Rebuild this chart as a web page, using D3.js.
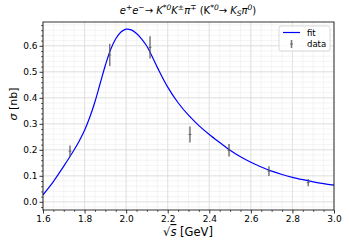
<!DOCTYPE html>
<html><head><meta charset="utf-8">
<script src="https://cdn.jsdelivr.net/npm/d3@7"></script>
<style>body{margin:0;background:#fff}svg{display:block}text{font-family:"DejaVu Sans",sans-serif}</style>
</head><body>
<svg id="c" width="349" height="249"></svg>
<script>
const fitX = [1.60,1.65,1.70,1.75,1.775,1.80,1.825,1.85,1.875,1.90,1.925,1.95,1.975,2.00,2.025,2.05,2.075,2.10,2.15,2.20,2.25,2.30,2.35,2.40,2.45,2.50,2.55,2.60,2.65,2.70,2.75,2.80,2.85,2.90,2.95,3.00];
const fitY = [0.027,0.078,0.137,0.2,0.235,0.275,0.325,0.385,0.455,0.525,0.585,0.627,0.653,0.664,0.661,0.647,0.626,0.598,0.517,0.441,0.381,0.333,0.293,0.259,0.228,0.198,0.173,0.152,0.134,0.118,0.105,0.094,0.085,0.077,0.07,0.064];
const dataX = [1.73,1.921,2.115,2.307,2.495,2.687,2.876];
const dataY = [0.195,0.565,0.594,0.259,0.198,0.118,0.074];
const dataErr = [0.022,0.043,0.043,0.031,0.024,0.019,0.014];
const xTicks = [1.6,1.8,2.0,2.2,2.4,2.6,2.8,3.0];
const yTicks = [0.0,0.1,0.2,0.3,0.4,0.5,0.6];

const svg = d3.select("#c");
const L=43,R=334,T=22,B=210;
const x = d3.scaleLinear().domain([1.6,3.0]).range([L,R]);
const y = d3.scaleLinear().domain([-0.0315,0.6915]).range([B,T]);

// grids
const xMinor = d3.range(1.6,3.0001,0.05);
const yMinor = d3.range(-0.02,0.69,0.02);
const g = svg.append("g");
g.selectAll(".xm").data(xMinor).join("line").attr("x1",d=>x(d)).attr("x2",d=>x(d)).attr("y1",T).attr("y2",B).attr("stroke","#ececec").attr("stroke-width",0.6);
g.selectAll(".ym").data(yMinor).join("line").attr("y1",d=>y(d)).attr("y2",d=>y(d)).attr("x1",L).attr("x2",R).attr("stroke","#ececec").attr("stroke-width",0.6);
g.selectAll(".xM").data(xTicks).join("line").attr("x1",d=>x(d)).attr("x2",d=>x(d)).attr("y1",T).attr("y2",B).attr("stroke","#dcdcdc").attr("stroke-width",0.8);
g.selectAll(".yM").data(yTicks).join("line").attr("y1",d=>y(d)).attr("y2",d=>y(d)).attr("x1",L).attr("x2",R).attr("stroke","#dcdcdc").attr("stroke-width",0.8);

// fit curve
const pts = fitX.map((d,i)=>[d,fitY[i]]);
svg.append("path").datum(pts).attr("fill","none").attr("stroke","#0000ff").attr("stroke-width",1.2)
  .attr("d",d3.line().x(d=>x(d[0])).y(d=>y(d[1])).curve(d3.curveCatmullRom.alpha(0.5)));

// data
const dg = svg.append("g");
dataX.forEach((d,i)=>{
  dg.append("line").attr("x1",x(d)).attr("x2",x(d)).attr("y1",y(dataY[i]-dataErr[i])).attr("y2",y(dataY[i]+dataErr[i])).attr("stroke","#555").attr("stroke-opacity",0.8).attr("stroke-width",1.5);
  dg.append("line").attr("x1",x(d)-1.5).attr("x2",x(d)+1.5).attr("y1",y(dataY[i])).attr("y2",y(dataY[i])).attr("stroke","#555").attr("stroke-width",0.8);
});

// axes
const xAxis = d3.axisBottom(x).tickValues(xTicks).tickFormat(d3.format(".1f")).tickSize(3.5).tickPadding(2);
const yAxis = d3.axisLeft(y).tickValues(yTicks).tickFormat(d3.format(".1f")).tickSize(3.5).tickPadding(2);
const xa = svg.append("g").attr("transform",`translate(0,${B})`).call(xAxis);
const ya = svg.append("g").attr("transform",`translate(${L},0)`).call(yAxis);
[xa,ya].forEach(a=>{a.select(".domain").remove();a.selectAll("text").attr("font-size",9).attr("fill","#000").attr("font-family","DejaVu Sans");a.selectAll("line").attr("stroke","#000").attr("stroke-width",0.8);});
// minor ticks
const xa2 = svg.append("g").attr("transform",`translate(0,${B})`).call(d3.axisBottom(x).tickValues(xMinor.filter(v=>Math.abs(v*5-Math.round(v*5))>1e-6)).tickSize(2).tickFormat(""));
const ya2 = svg.append("g").attr("transform",`translate(${L},0)`).call(d3.axisLeft(y).tickValues(yMinor.filter(v=>Math.abs(v*10-Math.round(v*10))>1e-6)).tickSize(2).tickFormat(""));
[xa2,ya2].forEach(a=>{a.select(".domain").remove();a.selectAll("line").attr("stroke","#000").attr("stroke-width",0.6);});

svg.append("rect").attr("x",L).attr("y",T).attr("width",R-L).attr("height",B-T).attr("fill","none").attr("stroke","#000").attr("stroke-width",0.8);

// labels
const title = svg.append("text").attr("x",188).attr("y",14).attr("text-anchor","middle").attr("font-size",10).attr("font-style","italic");
title.append("tspan").text("e");
title.append("tspan").text("+").attr("dy",-4).attr("font-size",7.5);
title.append("tspan").text("e").attr("dy",4);
title.append("tspan").text("−").attr("dy",-4).attr("font-size",7.5);
title.append("tspan").text("→ K").attr("dy",4);
title.append("tspan").text("*0").attr("dy",-4).attr("font-size",7.5);
title.append("tspan").text("K").attr("dy",4);
title.append("tspan").text("±").attr("dy",-4).attr("font-size",7.5);
title.append("tspan").text("π").attr("dy",4);
title.append("tspan").text("∓").attr("dy",-4).attr("font-size",7.5);
title.append("tspan").text(" (K").attr("dy",4).attr("font-style","normal");
title.append("tspan").text("*0").attr("dy",-4).attr("font-size",7.5);
title.append("tspan").text("→ K").attr("dy",4);
title.append("tspan").text("S").attr("dy",2).attr("font-size",7.5);
title.append("tspan").text("π").attr("dy",-2);
title.append("tspan").text("0").attr("dy",-4).attr("font-size",7.5);
title.append("tspan").text(")").attr("dy",4).attr("font-style","normal");

const xl = svg.append("text").attr("x",188).attr("y",236).attr("text-anchor","middle").attr("font-size",11.5);
xl.append("tspan").text("√");
xl.append("tspan").text("s").attr("font-style","italic").attr("text-decoration","overline");
xl.append("tspan").text(" [GeV]");

const yl = svg.append("text").attr("transform","translate(17,104) rotate(-90)").attr("text-anchor","middle").attr("font-size",11);
yl.append("tspan").text("σ").attr("font-style","italic");
yl.append("tspan").text(" [nb]");

// legend
const lg = svg.append("g");
lg.append("rect").attr("x",279).attr("y",26).attr("width",51).attr("height",25).attr("rx",2).attr("fill","#fff").attr("fill-opacity",0.8).attr("stroke","#d0d0d0").attr("stroke-width",0.8);
lg.append("line").attr("x1",283).attr("x2",300).attr("y1",32.5).attr("y2",32.5).attr("stroke","#0000ff").attr("stroke-width",1.2);
lg.append("text").attr("x",307).attr("y",35.5).attr("font-size",8.5).text("fit");
lg.append("line").attr("x1",291.5).attr("x2",291.5).attr("y1",40).attr("y2",48).attr("stroke","#555").attr("stroke-width",1.5).attr("stroke-opacity",0.8);
lg.append("line").attr("x1",290).attr("x2",293).attr("y1",44).attr("y2",44).attr("stroke","#555").attr("stroke-width",0.8);
lg.append("text").attr("x",307).attr("y",47).attr("font-size",8.5).text("data");
</script>
</body></html>
